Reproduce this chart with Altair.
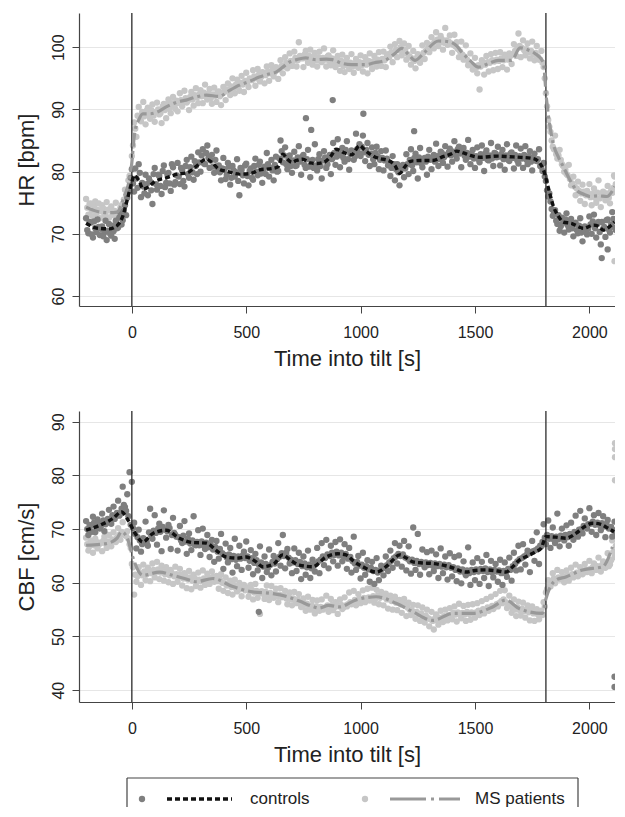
import altair as alt
import pandas as pd

FONT = "Liberation Sans"

# ---------------- sampling grids for the scatter (s) ----------------
T_A = list(range(-200, 2111, 10))
T_B = list(range(-195, 2116, 10))

# ---------------- HR [bpm] scatter ----------------
HR_CTRL_PTS_A = [
    72.5, 70.1, 71.8, 69.4, 70.9, 72.3, 69.8, 71.2, 70.2, 69.0,
    71.6, 69.7, 70.4, 72.1, 71.0, 73.4, 72.2, 74.6, 75.8, 77.3,
    80.4, 76.8, 78.9, 81.2, 75.9, 77.6, 79.5, 76.2, 78.4, 74.8,
    80.6, 77.1, 79.3, 76.4, 81.0, 78.2, 79.8, 76.9, 80.7, 78.3,
    81.4, 78.0, 80.2, 77.6, 81.9, 79.0, 82.4, 78.7, 80.9, 83.1,
    80.0, 83.6, 81.2, 84.2, 80.6, 82.7, 79.8, 83.4, 81.0, 78.6,
    82.2, 78.8, 81.4, 77.9, 80.9, 79.2, 82.0, 76.2, 80.3, 78.1,
    81.3, 77.8, 80.5, 78.7, 82.1, 79.4, 81.6, 78.2, 80.8, 83.0,
    79.2, 81.9, 78.6, 82.4, 80.1, 85.0, 81.5, 83.9, 80.4, 82.6,
    79.8, 83.2, 81.0, 84.1, 79.5, 82.7, 80.6, 83.5, 79.1, 81.9,
    84.4, 80.2, 82.8, 78.9, 83.3, 80.6, 82.1, 79.6, 84.6, 81.1,
    85.2, 80.7, 83.8, 81.6, 84.9, 80.3, 83.4, 81.9, 86.1, 83.0,
    82.5, 85.8, 81.7, 84.6, 80.9, 83.9, 81.2, 84.0, 80.4, 83.3,
    80.2, 83.4, 81.0, 79.3, 82.5, 78.6, 81.2, 77.8, 80.9, 79.1,
    82.8, 79.6, 83.6, 80.1, 82.9, 78.9, 83.8, 80.7, 82.2, 79.5,
    83.5, 80.4, 82.7, 84.5, 80.9, 83.2, 81.4, 84.1, 80.8, 83.7,
    81.6, 84.9, 82.1, 84.0, 80.7, 83.8, 81.9, 85.1, 81.2, 83.5,
    80.6, 83.9, 81.5, 84.2, 80.1, 83.4, 81.8, 84.6, 80.9, 82.9,
    84.0, 81.0, 83.5, 80.3, 84.4, 81.7, 83.1, 80.5, 84.2, 81.3,
    83.7, 80.6, 84.1, 81.2, 83.3, 80.2, 82.9, 81.7, 83.6, 80.8,
    81.4, 78.5, 76.0, 75.2, 72.9, 73.8, 71.6, 70.5, 72.6, 70.2,
    73.3, 70.7, 72.4, 69.6, 71.8, 70.1, 72.5, 68.8, 71.2, 69.9,
    72.8, 70.0, 73.1, 69.4, 71.9, 68.3, 70.8, 69.5, 72.3, 70.2,
    73.5, 71.0,
]
HR_CTRL_PTS_B = [
    70.6, 71.9, 69.9, 72.0, 70.3, 71.1, 70.8, 69.6, 72.1, 70.5,
    70.0, 71.3, 69.2, 70.9, 72.6, 71.5, 73.7, 73.0, 76.9, 79.0,
    78.1, 80.5, 77.4, 79.8, 78.2, 76.5, 78.0, 78.9, 77.0, 79.6,
    78.0, 79.5, 77.7, 80.1, 77.5, 79.6, 78.1, 81.2, 77.9, 79.4,
    79.2, 80.6, 78.5, 80.9, 79.6, 80.7, 79.9, 81.7, 79.6, 81.5,
    82.6, 81.3, 83.0, 82.2, 81.8, 80.8, 81.9, 80.1, 79.9, 80.5,
    80.4, 79.5, 80.8, 79.0, 80.2, 79.9, 78.5, 80.6, 79.4, 81.0,
    79.3, 80.1, 79.0, 80.9, 80.0, 81.1, 79.7, 80.4, 79.6, 81.2,
    80.6, 80.2, 81.1, 80.0, 82.1, 83.3, 82.6, 81.2, 82.0, 80.9,
    81.8, 80.9, 82.3, 81.6, 82.4, 81.1, 82.0, 80.8, 81.7, 80.6,
    81.0, 82.0, 80.9, 81.8, 82.3, 81.2, 82.7, 82.0, 83.0, 82.4,
    83.1, 82.6, 82.2, 83.5, 82.0, 82.9, 83.1, 82.4, 83.6, 84.4,
    84.0, 83.1, 83.5, 82.7, 82.9, 82.0, 83.0, 82.5, 81.9, 82.2,
    81.8, 82.1, 81.5, 80.6, 81.2, 80.4, 79.9, 80.3, 81.1, 80.5,
    81.2, 81.9, 81.0, 82.2, 81.5, 82.3, 81.3, 82.0, 81.6, 82.4,
    81.9, 82.2, 81.6, 82.5, 82.0, 83.0, 82.3, 82.7, 83.1, 82.6,
    83.2, 82.8, 83.6, 82.9, 83.3, 82.5, 83.0, 82.4, 82.9, 82.1,
    82.5, 82.0, 82.8, 82.2, 82.9, 81.9, 82.6, 82.1, 83.0, 82.3,
    82.4, 82.8, 82.0, 82.6, 81.9, 82.9, 82.2, 82.7, 81.8, 82.5,
    82.1, 82.7, 81.9, 82.5, 81.6, 82.3, 81.8, 82.0, 80.9, 80.1,
    79.2, 77.0, 76.5, 74.0, 73.4, 72.1, 73.0, 71.2, 71.8, 72.3,
    71.4, 72.0, 70.9, 71.6, 70.6, 71.3, 70.2, 71.0, 70.4, 70.8,
    71.5, 72.0, 70.9, 71.6, 70.3, 71.9, 71.1, 72.2, 70.7, 71.5,
    72.4, 70.6,
]
HR_MS_PTS_A = [
    75.6, 73.1, 74.9, 72.8, 75.2, 73.9, 72.5, 74.6, 73.0, 75.1,
    72.6, 74.4, 73.0, 75.0, 72.9, 74.2, 74.8, 77.1, 76.4, 79.3,
    82.5, 87.9, 85.6, 90.4, 88.1, 91.2, 87.6, 90.3, 88.5, 90.8,
    88.0, 91.1, 89.2, 87.8, 90.9, 88.6, 91.6, 89.4, 92.0, 90.1,
    89.7, 92.6, 90.5, 93.0, 91.1, 89.9, 92.8, 90.6, 93.4, 91.0,
    93.1, 91.0, 94.0, 91.6, 93.3, 90.9, 93.5, 91.2, 92.9, 90.7,
    93.6, 91.5, 94.2, 92.3, 95.0, 92.6, 94.8, 93.0, 95.4, 92.8,
    95.9, 93.6, 94.9, 96.3, 93.8, 96.5, 94.5, 96.0, 94.2, 96.9,
    94.6, 97.1, 95.3, 96.8, 94.9, 97.9, 95.8, 98.4, 96.6, 99.0,
    97.0, 99.3, 96.9, 100.8, 98.5, 96.8, 99.4, 97.5, 99.6, 97.2,
    99.1, 96.9, 99.3, 97.6, 99.8, 96.9, 98.7, 97.1, 99.5, 96.8,
    98.6, 96.2, 98.8, 96.0, 98.3, 96.5, 98.9, 95.9, 98.1, 96.7,
    98.7, 96.1, 98.4, 95.8, 99.0, 96.5, 98.6, 96.9, 99.2, 97.0,
    99.3, 96.8, 98.9, 100.1, 97.6, 100.5, 98.4, 101.0, 98.7, 100.6,
    98.0, 100.2, 97.2, 99.4, 96.6, 98.9, 97.5, 100.3, 98.1, 100.7,
    99.2, 101.6, 99.8, 102.4, 100.2, 101.8, 99.6, 103.1, 100.4, 101.9,
    99.1, 102.0, 100.8, 98.4, 100.9, 98.0, 100.3, 97.1, 99.0, 96.4,
    98.3, 95.8, 93.2, 97.9, 95.6, 98.6, 96.1, 98.9, 96.3, 99.1,
    96.5, 99.2, 96.8, 98.8, 96.4, 99.0, 97.3, 100.5, 98.6, 102.2,
    98.4, 101.1, 98.7, 100.6, 98.2, 100.9, 97.9, 100.2, 98.0, 99.4,
    96.8, 92.6, 88.3, 86.4, 84.0, 85.8, 82.1, 83.5, 81.2, 80.0,
    79.6, 81.1, 77.8, 79.2, 76.2, 78.4, 75.3, 77.9, 74.8, 76.9,
    78.0, 74.6, 77.3, 75.0, 78.6, 74.3, 76.8, 75.4, 77.7, 74.9,
    76.6, 79.2,
]
HR_MS_PTS_B = [
    74.2, 74.8, 73.7, 74.5, 73.3, 74.9, 73.6, 74.1, 73.2, 73.9,
    73.8, 73.1, 73.7, 72.9, 73.4, 74.6, 75.5, 76.2, 78.6, 78.0,
    84.2, 86.9, 89.0, 88.4, 89.6, 88.9, 89.8, 89.1, 89.9, 89.0,
    89.6, 90.0, 89.4, 90.5, 89.9, 90.8, 90.2, 91.0, 90.6, 91.4,
    91.0, 91.5, 91.2, 91.8, 91.4, 92.0, 91.6, 92.3, 91.9, 92.4,
    92.1, 92.7, 92.0, 92.5, 91.8, 92.4, 92.2, 92.8, 92.1, 92.6,
    92.8, 93.2, 93.0, 93.7, 93.4, 94.0, 93.6, 94.3, 94.0, 94.6,
    94.4, 95.0, 94.7, 95.3, 95.0, 95.6, 95.2, 95.9, 95.5, 96.1,
    95.8, 96.3, 96.0, 96.6, 96.4, 97.0, 96.9, 97.5, 97.2, 97.8,
    97.8, 98.3, 97.9, 98.6, 98.2, 98.8, 98.1, 98.6, 98.0, 98.5,
    97.9, 98.4, 97.8, 98.3, 98.0, 98.5, 97.7, 98.2, 97.6, 98.1,
    97.3, 97.8, 97.0, 97.6, 97.1, 97.5, 96.9, 97.4, 97.0, 97.6,
    97.1, 97.5, 97.2, 97.8, 97.3, 97.7, 97.5, 98.0, 97.6, 98.1,
    97.9, 98.6, 98.4, 99.2, 98.9, 99.6, 99.5, 100.0, 99.3, 99.6,
    98.9, 98.5, 98.2, 97.8, 98.3, 98.0, 98.6, 99.1, 99.4, 99.9,
    100.2, 100.5, 100.9, 101.2, 100.8, 101.3, 100.7, 101.1, 100.9, 100.6,
    100.4, 100.1, 99.7, 99.3, 98.8, 98.5, 98.0, 97.6, 97.2, 97.0,
    96.7, 97.1, 96.9, 97.4, 97.2, 97.6, 97.5, 97.9, 97.7, 98.0,
    97.8, 98.2, 97.9, 98.4, 98.0, 98.6, 98.9, 99.4, 99.8, 100.2,
    99.9, 99.5, 99.7, 99.2, 99.4, 98.9, 99.1, 98.5, 98.0, 97.5,
    95.0, 90.5, 87.2, 85.0, 83.6, 82.8, 82.6, 81.9, 80.9, 80.3,
    79.4, 78.8, 78.1, 77.6, 77.3, 76.9, 76.5, 76.8, 76.2, 76.5,
    75.9, 76.4, 75.8, 76.6, 75.7, 76.3, 76.0, 76.5, 75.8, 76.9,
    77.4, 78.0,
]
HR_CTRL_EXTRA_T = [761, 784, 878, 1012, 1234, 2054, 2080]
HR_CTRL_EXTRA_V = [88.6, 86.7, 91.5, 89.3, 86.5, 66.1, 67.5]
HR_MS_EXTRA_T = [2108, 2110]
HR_MS_EXTRA_V = [79.4, 65.6]

# ---------------- HR smoothed curves ----------------
HR_CTRL_LINE_T = [
    -200, -150, -100, -60, -40, -20, 0, 10, 30, 50,
    75, 100, 150, 200, 240, 280, 325, 350, 380, 420,
    470, 520, 560, 615, 640, 660, 680, 700, 720, 746,
    780, 804, 840, 870, 893, 930, 960, 996, 1020, 1050,
    1083, 1120, 1150, 1171, 1190, 1215, 1260, 1316, 1360, 1400,
    1420, 1450, 1480, 1522, 1560, 1600, 1650, 1700, 1754, 1780,
    1800, 1820, 1842, 1865, 1886, 1920, 1974, 2018, 2040, 2061,
    2090, 2110,
]
HR_CTRL_LINE_V = [
    71.7, 70.9, 70.8, 71.5, 72.8, 75.5, 78.3, 79.4, 78.6, 77.2,
    77.6, 78.4, 79.0, 79.6, 79.8, 80.8, 82.0, 81.5, 80.4, 80.0,
    79.6, 79.7, 80.3, 80.5, 80.8, 82.8, 82.0, 81.5, 81.8, 82.0,
    81.4, 81.3, 81.5, 82.5, 83.6, 83.0, 82.7, 84.2, 83.4, 82.6,
    82.1, 81.8, 81.0, 79.7, 80.6, 81.6, 81.8, 81.8, 82.4, 82.9,
    83.3, 83.0, 82.6, 82.3, 82.4, 82.5, 82.4, 82.3, 82.1, 81.5,
    80.2, 77.5, 74.5, 72.8, 71.9, 71.7, 70.9, 71.4, 71.2, 70.6,
    71.2, 71.9,
]
HR_MS_LINE_T = [
    -200, -150, -100, -65, -33, -15, -2, 12, 30, 48,
    80, 106, 150, 200, 237, 281, 325, 383, 420, 470,
    520, 557, 600, 630, 660, 688, 720, 760, 804, 850,
    876, 919, 960, 1020, 1060, 1108, 1150, 1180, 1210, 1238,
    1280, 1340, 1384, 1420, 1442, 1480, 1515, 1560, 1602, 1660,
    1697, 1730, 1762, 1798, 1813, 1842, 1865, 1886, 1910, 1944,
    1980, 2003, 2040, 2076, 2111,
]
HR_MS_LINE_V = [
    74.3, 73.6, 73.4, 73.5, 76.0, 78.0, 80.8, 86.1, 88.3, 89.3,
    89.3, 89.5, 90.4, 91.2, 91.5, 92.0, 92.3, 92.1, 92.9, 93.9,
    94.6, 95.2, 95.7, 96.0, 96.8, 97.6, 98.0, 98.3, 98.0, 98.1,
    98.0, 97.4, 97.2, 97.2, 97.5, 97.9, 99.0, 99.8, 98.8, 97.9,
    99.2, 101.0, 100.9, 100.2, 99.2, 97.8, 96.8, 97.4, 97.9, 97.9,
    99.9, 99.6, 99.0, 97.6, 91.5, 84.5, 82.3, 80.8, 79.0, 77.0,
    76.3, 76.0, 76.1, 76.0, 77.6,
]

# ---------------- CBF [cm/s] scatter ----------------
CBF_CTRL_PTS_A = [
    71.5, 68.9, 70.6, 72.3, 69.4, 71.8, 70.1, 72.9, 69.6, 71.2,
    73.6, 71.0, 74.2, 72.4, 75.3, 72.8, 77.9, 74.1, 76.5, 80.6,
    78.8, 71.2, 66.4, 69.9, 65.8, 68.3, 71.4, 66.9, 73.8, 68.2,
    72.6, 67.1, 71.0, 65.9, 73.5, 68.4, 70.8, 66.3, 72.1, 68.9,
    66.0, 70.6, 67.4, 71.5, 65.4, 69.2, 66.1, 72.4, 67.0, 69.8,
    65.2, 70.1, 66.3, 68.9, 64.8, 68.0, 63.9, 67.8, 64.5, 69.1,
    62.6, 67.3, 63.8, 66.5, 61.9, 68.2, 63.1, 66.9, 62.4, 65.8,
    67.7, 62.8, 66.1, 61.6, 65.4, 62.3, 66.8, 60.9, 64.9, 62.0,
    66.2, 61.4, 65.0, 62.1, 67.4, 63.2, 68.9, 62.7, 66.3, 63.6,
    61.8, 66.4, 62.2, 65.6, 60.7, 64.9, 61.5, 66.0, 60.9, 64.3,
    62.1, 66.5, 61.8, 67.4, 63.3, 68.0, 62.7, 66.9, 64.0, 67.6,
    63.2, 68.1, 64.0, 67.2, 62.6, 66.5, 61.9, 68.6, 62.4, 65.0,
    60.8, 65.6, 61.5, 64.2, 60.2, 63.9, 59.8, 64.6, 60.5, 63.2,
    61.4, 64.9, 62.2, 66.0, 62.8, 67.4, 63.6, 66.9, 63.0, 67.8,
    62.3, 66.8, 61.7, 70.3, 62.4, 69.1, 61.5, 66.2, 62.9, 65.7,
    61.6, 66.0, 62.2, 65.3, 60.9, 66.4, 61.8, 64.9, 60.6, 65.5,
    61.2, 64.8, 60.3, 65.1, 59.9, 64.0, 61.4, 66.6, 59.6, 63.8,
    60.5, 64.6, 59.8, 63.9, 60.9, 65.2, 59.4, 64.1, 61.0, 63.5,
    60.2, 64.3, 59.6, 63.8, 61.1, 64.7, 60.4, 65.6, 62.3, 66.9,
    62.5, 67.2, 63.4, 66.0, 62.0, 67.8, 64.1, 69.4, 63.5, 66.8,
    70.9, 67.2, 71.6, 66.5, 70.3, 67.4, 72.9, 66.8, 70.1, 67.9,
    70.7, 66.9, 71.2, 68.0, 72.5, 68.6, 73.4, 69.2, 72.0, 70.1,
    73.9, 69.5, 72.6, 68.9, 73.0, 69.8, 72.4, 68.5, 71.7, 70.2,
    68.6, 71.4,
]
CBF_CTRL_PTS_B = [
    70.0, 70.8, 69.5, 71.2, 70.3, 71.0, 70.6, 71.6, 70.9, 71.9,
    71.5, 72.6, 71.9, 73.0, 72.5, 73.8, 74.5, 73.4, 72.4, 70.8,
    70.2, 69.1, 68.5, 67.9, 67.2, 68.0, 67.6, 69.4, 68.8, 69.7,
    69.3, 70.1, 69.5, 70.4, 69.9, 69.6, 70.2, 68.9, 69.3, 68.6,
    68.5, 67.9, 68.8, 67.7, 68.2, 67.3, 67.9, 67.1, 67.6, 67.0,
    67.7, 66.9, 67.5, 66.6, 67.1, 66.2, 66.7, 65.8, 66.3, 65.5,
    65.2, 64.7, 65.3, 64.4, 65.0, 64.3, 64.9, 64.5, 65.1, 64.6,
    64.9, 64.1, 64.6, 63.7, 64.2, 63.4, 63.8, 63.0, 63.5, 62.8,
    63.3, 63.9, 63.6, 64.4, 64.8, 65.5, 65.0, 65.6, 64.7, 64.3,
    63.8, 64.2, 63.5, 63.9, 63.1, 63.6, 62.9, 63.4, 62.7, 63.2,
    63.5, 64.0, 64.3, 64.9, 64.6, 65.3, 65.0, 65.6, 65.2, 65.8,
    65.1, 65.6, 64.9, 65.4, 64.5, 64.8, 64.0, 63.6, 63.9, 63.2,
    63.4, 62.8, 63.1, 62.5, 62.8, 62.2, 62.4, 61.9, 62.3, 62.6,
    62.9, 63.3, 63.8, 64.1, 64.6, 64.9, 65.4, 65.0, 65.3, 64.7,
    64.5, 64.0, 64.3, 63.7, 64.1, 63.5, 63.9, 63.4, 63.8, 63.3,
    63.7, 63.2, 63.6, 63.1, 63.5, 63.0, 63.4, 62.9, 63.3, 62.8,
    62.9, 62.4, 62.7, 62.1, 62.5, 61.9, 62.3, 61.8, 62.4, 62.0,
    62.5, 62.1, 62.6, 62.2, 62.7, 62.0, 62.5, 61.9, 62.4, 62.1,
    62.3, 61.8, 62.2, 61.7, 62.6, 62.4, 63.1, 63.5, 64.0, 64.4,
    64.6, 64.9, 65.2, 65.5, 65.7, 65.9, 66.1, 66.4, 66.9, 67.6,
    68.4, 68.9, 68.2, 68.7, 68.0, 68.6, 68.1, 68.8, 68.4, 68.9,
    68.5, 69.1, 68.8, 69.5, 69.2, 69.9, 70.0, 70.6, 70.3, 70.9,
    71.0, 71.4, 70.8, 71.2, 70.7, 71.1, 70.5, 70.9, 70.1, 70.4,
    69.8, 69.2,
]
CBF_MS_PTS_A = [
    68.4, 66.0, 67.9, 65.6, 68.2, 66.4, 67.5, 65.9, 68.6, 66.5,
    68.9, 66.8, 69.4, 67.6, 70.2, 68.0, 71.3, 68.9, 69.6, 67.2,
    63.5, 57.8, 60.2, 62.9, 59.6, 63.4, 60.5, 62.8, 60.3, 63.6,
    61.0, 63.9, 60.7, 63.2, 60.4, 62.9, 60.1, 62.4, 59.8, 63.0,
    60.2, 62.6, 59.5, 61.8, 59.0, 62.2, 58.8, 61.5, 59.4, 61.9,
    59.1, 62.3, 59.6, 61.7, 59.8, 62.1, 60.2, 61.3, 58.9, 61.6,
    58.5, 61.0, 58.1, 60.4, 57.8, 60.6, 58.4, 60.0, 57.5, 59.6,
    59.2, 57.4, 59.6, 56.9, 59.8, 57.2, 54.2, 58.4, 57.0, 59.5,
    56.8, 59.4, 57.2, 58.9, 56.4, 59.0, 57.6, 58.5, 56.0, 58.2,
    55.8, 58.3, 56.2, 57.9, 55.5, 57.1, 54.8, 57.4, 55.0, 56.8,
    54.3, 56.7, 54.8, 56.9, 55.2, 57.6, 54.6, 57.0, 54.9, 56.4,
    54.2, 56.9, 55.1, 57.3, 55.6, 58.2, 56.0, 58.5, 55.8, 57.9,
    56.2, 58.6, 56.4, 58.9, 56.7, 59.1, 56.3, 58.7, 56.0, 58.3,
    55.8, 58.0, 55.2, 57.6, 55.0, 57.4, 54.9, 56.8, 54.4, 57.0,
    53.8, 56.3, 54.0, 55.9, 53.3, 55.8, 52.9, 55.4, 52.6, 55.0,
    51.9, 54.6, 51.3, 54.1, 52.2, 54.8, 52.7, 55.0, 53.0, 55.3,
    53.2, 55.6, 52.8, 56.1, 53.4, 55.7, 52.9, 55.9, 53.1, 56.0,
    53.5, 56.2, 54.0, 56.6, 54.3, 57.0, 54.8, 57.4, 55.1, 57.9,
    55.6, 58.5, 56.2, 58.6, 55.3, 57.6, 54.4, 56.9, 53.8, 56.5,
    53.9, 56.3, 53.5, 55.8, 53.0, 55.6, 52.9, 55.1, 53.2, 54.8,
    56.4, 58.2, 60.5, 59.3, 61.8, 59.9, 62.4, 60.6, 62.0, 60.1,
    62.3, 60.4, 62.8, 61.0, 63.4, 61.2, 62.9, 61.6, 63.5, 62.0,
    64.1, 61.8, 63.6, 62.4, 64.7, 62.1, 64.0, 62.8, 65.5, 63.4,
    67.9, 64.8,
]
CBF_MS_PTS_B = [
    67.2, 66.8, 67.5, 67.0, 67.6, 67.1, 67.4, 67.8, 67.3, 67.7,
    67.5, 68.1, 67.8, 68.4, 68.9, 69.5, 69.0, 68.7, 68.2, 66.5,
    62.9, 61.5, 61.2, 61.8, 61.4, 62.1, 61.6, 62.2, 61.8, 62.4,
    62.0, 62.5, 61.9, 62.3, 61.6, 62.0, 61.4, 61.8, 61.2, 61.6,
    61.1, 61.5, 60.8, 61.2, 60.6, 61.0, 60.4, 60.8, 60.2, 60.6,
    60.3, 60.8, 60.5, 61.0, 60.6, 61.1, 60.7, 60.3, 60.6, 60.0,
    59.9, 59.5, 59.8, 59.2, 59.6, 59.0, 59.4, 58.8, 59.1, 58.6,
    58.9, 58.4, 58.7, 58.2, 58.5, 58.0, 58.4, 57.9, 58.3, 57.8,
    58.1, 57.6, 58.0, 57.5, 57.8, 57.3, 57.6, 57.1, 57.4, 56.9,
    57.1, 56.6, 56.9, 56.3, 56.5, 55.9, 56.1, 55.6, 55.8, 55.3,
    55.6, 55.1, 55.5, 55.0, 55.4, 55.8, 55.3, 55.9, 55.4, 56.0,
    55.6, 55.9, 55.4, 55.8, 56.0, 56.4, 56.2, 56.8, 56.5, 57.0,
    56.9, 57.2, 56.8, 57.3, 57.0, 57.5, 57.1, 57.6, 57.2, 57.7,
    57.3, 56.9, 57.1, 56.6, 56.8, 56.3, 56.5, 56.0, 56.2, 55.7,
    55.4, 55.0, 54.8, 54.4, 54.6, 54.1, 54.3, 53.7, 53.9, 53.4,
    53.2, 52.9, 53.3, 53.0, 53.5, 53.2, 53.8, 53.5, 54.0, 53.8,
    54.4, 54.1, 54.5, 54.0, 54.4, 54.1, 54.6, 54.2, 54.5, 54.1,
    54.5, 54.8, 54.7, 55.1, 54.9, 55.4, 55.2, 55.7, 55.5, 56.0,
    56.2, 56.6, 56.9, 56.4, 56.0, 55.7, 55.3, 55.0, 55.4, 54.9,
    55.2, 54.7, 55.0, 54.5, 54.8, 54.3, 54.6, 54.1, 54.4, 54.0,
    55.6, 58.8, 59.6, 60.3, 60.8, 60.5, 61.0, 60.7, 61.2, 60.9,
    61.4, 61.1, 61.6, 61.3, 61.9, 61.6, 62.2, 61.9, 62.5, 62.2,
    62.6, 62.9, 62.5, 63.1, 62.7, 63.3, 62.9, 63.5, 63.1, 64.2,
    65.8, 66.9,
]
CBF_CTRL_EXTRA_T = [555, 2110, 2110]
CBF_CTRL_EXTRA_V = [54.6, 42.5, 40.6]
CBF_MS_EXTRA_T = [2112, 2112, 2112, 2112]
CBF_MS_EXTRA_V = [86.0, 84.9, 83.4, 79.1]

# ---------------- CBF smoothed curves ----------------
CBF_CTRL_LINE_T = [
    -200, -141, -82, -45, -17, 19, 48, 92, 150, 208,
    266, 325, 370, 412, 460, 499, 540, 572, 620, 659,
    700, 732, 790, 849, 900, 936, 970, 1009, 1068, 1111,
    1140, 1171, 1200, 1229, 1270, 1316, 1388, 1461, 1500, 1548,
    1600, 1635, 1660, 1693, 1730, 1766, 1790, 1810, 1853, 1897,
    1941, 1980, 2014, 2050, 2072, 2108,
]
CBF_CTRL_LINE_V = [
    69.8, 70.7, 72.0, 73.2, 71.7, 68.9, 67.6, 69.2, 69.8, 68.3,
    67.5, 67.4, 66.0, 64.8, 64.6, 64.8, 64.0, 63.0, 63.5, 65.2,
    64.0, 63.3, 63.0, 64.8, 65.4, 65.2, 64.0, 63.0, 62.0, 63.0,
    64.2, 65.2, 64.6, 63.9, 63.7, 63.6, 63.0, 62.0, 62.3, 62.4,
    62.2, 62.0, 62.8, 64.2, 65.0, 65.8, 66.5, 68.6, 68.5, 68.3,
    69.2, 70.5, 71.1, 70.9, 70.4, 69.5,
]
CBF_MS_LINE_T = [
    -200, -112, -65, -45, -17, 4, 48, 121, 179, 230,
    281, 354, 441, 528, 615, 688, 732, 790, 819, 860,
    907, 980, 1068, 1155, 1229, 1316, 1403, 1490, 1577, 1635,
    1693, 1795, 1810, 1853, 1897, 1970, 2058, 2101,
]
CBF_MS_LINE_V = [
    67.0, 67.3, 68.3, 69.5, 68.0, 64.8, 61.4, 62.0, 61.4, 60.8,
    60.2, 60.8, 59.3, 58.3, 58.0, 57.3, 56.6, 55.6, 55.3, 55.8,
    55.5, 56.8, 57.4, 56.2, 54.6, 53.0, 54.3, 54.3, 55.5, 56.8,
    55.2, 54.3, 57.0, 60.5, 61.1, 62.4, 63.0, 66.7,
]

TILT_MARKS = [0, 1810]
X_TICKS = [0, 500, 1000, 1500, 2000]
X_DOMAIN = [-231, 2112]

HR_TICKS = [60, 70, 80, 90, 100]
HR_DOMAIN = [58.4, 105.5]
CBF_TICKS = [40, 50, 60, 70, 80, 90]
CBF_DOMAIN = [37.8, 92.0]

C_CTRL_PT = "#7f7f7f"
C_MS_PT = "#c6c6c6"
C_MS_LINE = "#999999"
CTRL_DASH = [5, 3]
MS_DASH = [14, 4, 3, 4]
PT_SIZE = 40
PLOT_W = 536


def frame(t, v):
    return pd.DataFrame({"t": t, "v": v})


def panel(ctrl_sets, ms_sets, ctrl_line, ms_line, ydom, yticks, ytitle, h):
    x = alt.X("t:Q", scale=alt.Scale(domain=X_DOMAIN, nice=False, zero=False),
              axis=alt.Axis(values=X_TICKS, format="d", title="Time into tilt [s]", grid=False))
    y = alt.Y("v:Q", scale=alt.Scale(domain=ydom, nice=False, zero=False),
              axis=alt.Axis(values=yticks, title=ytitle, grid=True))
    ms_all = pd.concat([frame(*s) for s in ms_sets])
    ct_all = pd.concat([frame(*s) for s in ctrl_sets])
    l_ms_pts = alt.Chart(ms_all).mark_circle(
        size=PT_SIZE, color=C_MS_PT, opacity=1, clip=True).encode(x=x, y=y)
    l_ct_pts = alt.Chart(ct_all).mark_circle(
        size=PT_SIZE, color=C_CTRL_PT, opacity=1, clip=True).encode(x=x, y=y)
    rules = alt.Chart(pd.DataFrame({"t": TILT_MARKS})).mark_rule(
        color="#2b2b2b", strokeWidth=1.3).encode(x=x)
    l_ms_line = alt.Chart(frame(*ms_line)).mark_line(
        color=C_MS_LINE, strokeWidth=3.2, strokeDash=MS_DASH, interpolate="monotone", clip=True
    ).encode(x=x, y=y)
    l_ct_line = alt.Chart(frame(*ctrl_line)).mark_line(
        color="#111111", strokeWidth=3.4, strokeDash=CTRL_DASH, interpolate="monotone", clip=True
    ).encode(x=x, y=y)
    return alt.layer(l_ms_pts, l_ct_pts, rules, l_ms_line, l_ct_line).properties(
        width=PLOT_W, height=h)


top = panel([(T_A, HR_CTRL_PTS_A), (T_B, HR_CTRL_PTS_B), (HR_CTRL_EXTRA_T, HR_CTRL_EXTRA_V)],
            [(T_A, HR_MS_PTS_A), (T_B, HR_MS_PTS_B), (HR_MS_EXTRA_T, HR_MS_EXTRA_V)],
            (HR_CTRL_LINE_T, HR_CTRL_LINE_V), (HR_MS_LINE_T, HR_MS_LINE_V),
            HR_DOMAIN, HR_TICKS, "HR [bpm]", 293)
bottom = panel([(T_A, CBF_CTRL_PTS_A), (T_B, CBF_CTRL_PTS_B), (CBF_CTRL_EXTRA_T, CBF_CTRL_EXTRA_V)],
               [(T_A, CBF_MS_PTS_A), (T_B, CBF_MS_PTS_B), (CBF_MS_EXTRA_T, CBF_MS_EXTRA_V)],
               (CBF_CTRL_LINE_T, CBF_CTRL_LINE_V), (CBF_MS_LINE_T, CBF_MS_LINE_V),
               CBF_DOMAIN, CBF_TICKS, "CBF [cm/s]", 291)

# ---------------- custom legend (box is cut by the page bottom) ----------------
LEG_LABELS = ["controls", "MS patients"]
one = alt.Data(values=[{}])
LY = 21
LEG_H = 29
BOX_L, BOX_R = 48, 499
BOX_STYLE = dict(color="#444444", strokeWidth=1.2)
leg_top = alt.Chart(one).mark_rule(**BOX_STYLE).encode(
    x=alt.value(BOX_L), x2=alt.value(BOX_R), y=alt.value(0))
leg_left = alt.Chart(one).mark_rule(**BOX_STYLE).encode(
    x=alt.value(BOX_L), y=alt.value(0), y2=alt.value(LEG_H))
leg_right = alt.Chart(one).mark_rule(**BOX_STYLE).encode(
    x=alt.value(BOX_R), y=alt.value(0), y2=alt.value(LEG_H))
leg_dot1 = alt.Chart(one).mark_circle(size=PT_SIZE, color=C_CTRL_PT, opacity=1).encode(
    x=alt.value(63), y=alt.value(LY))
leg_line1 = alt.Chart(one).mark_rule(color="#111111", strokeWidth=3.4, strokeDash=CTRL_DASH).encode(
    x=alt.value(88), x2=alt.value(153), y=alt.value(LY))
leg_txt1 = alt.Chart(one).mark_text(align="left", baseline="middle", fontSize=17, font=FONT,
                                    color="#222222").encode(
    x=alt.value(171), y=alt.value(LY), text=alt.value(LEG_LABELS[0]))
leg_dot2 = alt.Chart(one).mark_circle(size=PT_SIZE, color=C_MS_PT, opacity=1).encode(
    x=alt.value(286), y=alt.value(LY))
leg_line2 = alt.Chart(one).mark_rule(color=C_MS_LINE, strokeWidth=3.2, strokeDash=[36, 5, 3, 5]).encode(
    x=alt.value(311), x2=alt.value(381), y=alt.value(LY))
leg_txt2 = alt.Chart(one).mark_text(align="left", baseline="middle", fontSize=17, font=FONT,
                                    color="#222222").encode(
    x=alt.value(396), y=alt.value(LY), text=alt.value(LEG_LABELS[1]))
legend = alt.layer(leg_top, leg_left, leg_right, leg_dot1, leg_line1, leg_txt1,
                   leg_dot2, leg_line2, leg_txt2).properties(width=PLOT_W, height=LEG_H)

plots = alt.vconcat(top, bottom, spacing=41)
chart = alt.vconcat(plots, legend, spacing=12).properties(
    background="white",
    padding={"left": 6, "top": 4, "right": 0, "bottom": 0},
).configure_view(
    stroke=None
).configure_axis(
    labelFont=FONT, titleFont=FONT, labelFontSize=16, titleFontSize=22,
    labelColor="#222222", titleColor="#222222", titleFontWeight="normal",
    domainColor="#444444", tickColor="#444444", tickSize=7, domainWidth=1.2,
    gridColor="#e6e6e6", gridWidth=1,
).configure_axisY(
    labelAngle=270, labelAlign="center", labelBaseline="bottom", labelPadding=6,
    titlePadding=12,
).configure_axisX(
    labelPadding=11, titlePadding=8,
)

chart.save("out.html", embed_options={"renderer": "svg", "actions": False})
